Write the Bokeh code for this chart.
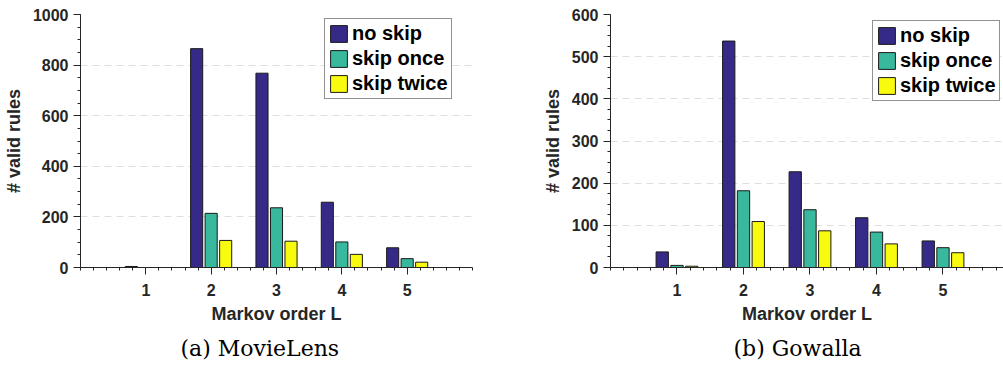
from bokeh.plotting import figure
from bokeh.models import (ColumnDataSource, FixedTicker, Legend, LegendItem, Title, Range1d)
from bokeh.layouts import row
from bokeh.transform import dodge
from bokeh.embed import file_html
from bokeh.resources import INLINE

# ---------------- data ----------------
markov_order = [1, 2, 3, 4, 5]
series_names = ["no skip", "skip once", "skip twice"]

movielens_no_skip = [4, 865, 768, 258, 78]
movielens_skip_once = [0, 214, 236, 101, 35]
movielens_skip_twice = [0, 107, 104, 52, 21]

gowalla_no_skip = [37, 537, 227, 118, 63]
gowalla_skip_once = [5, 182, 137, 84, 47]
gowalla_skip_twice = [3, 109, 87, 56, 35]

movielens_y_ticks = [0, 200, 400, 600, 800, 1000]
gowalla_y_ticks = [0, 100, 200, 300, 400, 500, 600]
x_ticks = [1, 2, 3, 4, 5]

captions = ["(a) MovieLens", "(b) Gowalla"]

# ---------------- style ----------------
colors = ["#352a87", "#38b99e", "#f9fb0e"]
offsets = [-0.222, 0.0, 0.222]
BAR_W = 0.185
AX = "#262626"
FONT = "Liberation Sans"


def panel(width, border_left, border_right, x_end, y_end, y_ticks, y_minor_step,
          series, caption, legend_xy, caption_offset, frame_h):
    p = figure(width=width, height=370, output_backend="svg", toolbar_location=None,
               x_range=Range1d(0, x_end), y_range=Range1d(0, y_end),
               min_border_left=border_left, min_border_right=border_right,
               min_border_top=14, min_border_bottom=370 - 14 - frame_h)
    p.outline_line_color = None
    p.background_fill_color = "white"
    p.border_fill_color = "white"

    src = ColumnDataSource(dict(L=markov_order, a=series[0], b=series[1], c=series[2]))
    rends = []
    for key, off, col in zip(["a", "b", "c"], offsets, colors):
        r = p.vbar(x=dodge("L", off, range=p.x_range), top=key, width=BAR_W, bottom=0,
                   source=src, fill_color=col, line_color="#1a1a1a", line_width=1)
        rends.append(r)

    minor_x = [round(i * 0.2, 2) for i in range(0, 31)]
    p.xaxis.ticker = FixedTicker(ticks=x_ticks, minor_ticks=minor_x)
    minor_y = []
    v = 0
    while v <= y_end + 1e-9:
        minor_y.append(v)
        v += y_minor_step
    p.yaxis.ticker = FixedTicker(ticks=y_ticks, minor_ticks=minor_y)

    for ax in (p.xaxis[0], p.yaxis[0]):
        ax.axis_line_color = AX
        ax.axis_line_width = 1
        ax.major_tick_line_color = AX
        ax.minor_tick_line_color = AX
        ax.major_tick_in = 0
        ax.major_tick_out = 7
        ax.minor_tick_in = 0
        ax.minor_tick_out = 3
        ax.major_label_text_font = FONT
        ax.major_label_text_font_style = "bold"
        ax.major_label_text_font_size = "16px"
        ax.major_label_text_color = AX
        ax.axis_label_text_font = FONT
        ax.axis_label_text_font_style = "bold"
        ax.axis_label_text_font_size = "18px"
        ax.axis_label_text_color = AX

    p.xaxis.axis_label = "Markov order L"
    p.yaxis.axis_label = "# valid rules"
    p.xaxis.major_label_standoff = 9
    p.yaxis.major_label_standoff = 5
    p.xaxis.axis_label_standoff = 5
    p.yaxis.axis_label_standoff = 6

    p.xgrid.grid_line_color = None
    p.ygrid.grid_line_color = "#dedede"
    p.ygrid.grid_line_dash = "7 5"
    p.ygrid.grid_line_width = 1

    legend = Legend(items=[LegendItem(label=n, renderers=[r]) for n, r in zip(series_names, rends)],
                    location=legend_xy, orientation="vertical")
    legend.label_text_font = FONT
    legend.label_text_font_style = "bold"
    legend.label_text_font_size = "20px"
    legend.label_text_color = "black"
    legend.glyph_width = 21
    legend.glyph_height = 21
    legend.label_height = 21
    legend.label_standoff = 3
    legend.spacing = 2
    legend.padding = 3
    legend.margin = 0
    legend.border_line_color = AX
    legend.border_line_width = 1
    legend.background_fill_color = "white"
    legend.background_fill_alpha = 1
    p.add_layout(legend)

    cap = Title(text=caption, align="left", offset=caption_offset, standoff=15,
                text_font="DejaVu Serif", text_font_size="22px", text_font_style="normal",
                text_color="black")
    p.add_layout(cap, "below")
    return p


p1 = panel(501, 80, 29, 6.0, 1000, movielens_y_ticks, 50,
           [movielens_no_skip, movielens_skip_once, movielens_skip_twice],
           captions[0], (244, 168), 100, 255)
p2 = panel(502, 109, 0, 5.91, 600, gowalla_y_ticks, 25,
           [gowalla_no_skip, gowalla_skip_once, gowalla_skip_twice],
           captions[1], (262, 166), 123, 253)

layout = row(p1, p2)
open("out.html", "w").write(file_html(layout, INLINE))
